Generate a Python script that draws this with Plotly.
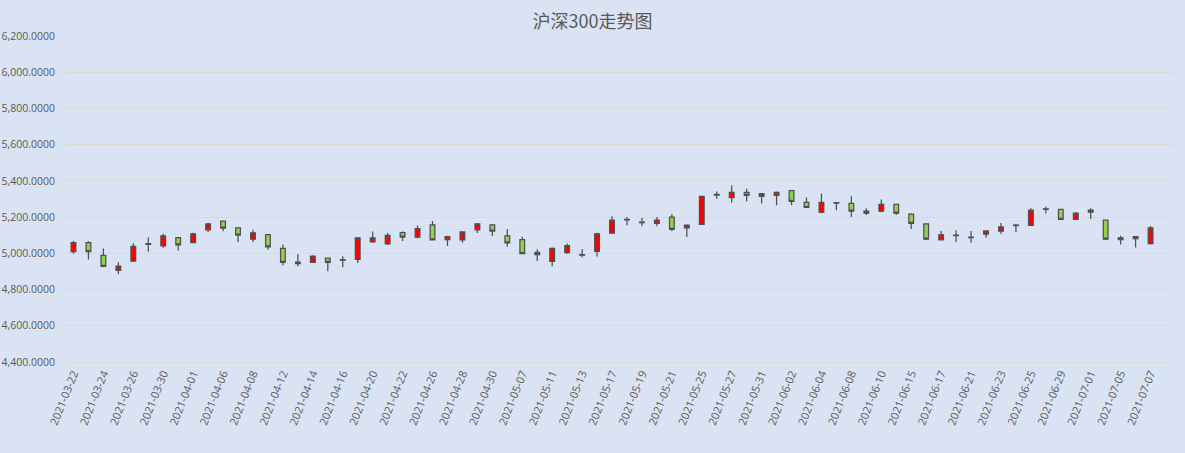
import plotly.graph_objects as go

# 沪深300 daily candles, 2021-03-22 .. 2021-07-07
dates = [
    "2021-03-22", "2021-03-23", "2021-03-24", "2021-03-25", "2021-03-26",
    "2021-03-29", "2021-03-30", "2021-03-31", "2021-04-01", "2021-04-02",
    "2021-04-06", "2021-04-07", "2021-04-08", "2021-04-09", "2021-04-12",
    "2021-04-13", "2021-04-14", "2021-04-15", "2021-04-16", "2021-04-19",
    "2021-04-20", "2021-04-21", "2021-04-22", "2021-04-23", "2021-04-26",
    "2021-04-27", "2021-04-28", "2021-04-29", "2021-04-30", "2021-05-06",
    "2021-05-07", "2021-05-10", "2021-05-11", "2021-05-12", "2021-05-13",
    "2021-05-14", "2021-05-17", "2021-05-18", "2021-05-19", "2021-05-20",
    "2021-05-21", "2021-05-24", "2021-05-25", "2021-05-26", "2021-05-27",
    "2021-05-28", "2021-05-31", "2021-06-01", "2021-06-02", "2021-06-03",
    "2021-06-04", "2021-06-07", "2021-06-08", "2021-06-09", "2021-06-10",
    "2021-06-11", "2021-06-15", "2021-06-16", "2021-06-17", "2021-06-18",
    "2021-06-21", "2021-06-22", "2021-06-23", "2021-06-24", "2021-06-25",
    "2021-06-28", "2021-06-29", "2021-06-30", "2021-07-01", "2021-07-02",
    "2021-07-05", "2021-07-06", "2021-07-07",
]
open_ = [
    5009, 5059, 4989, 4906, 4957, 5050, 5041, 5087, 5059, 5130,
    5178, 5141, 5079, 5103, 5027, 4951, 4950, 4973, 4962, 4966,
    5063, 5052, 5115, 5090, 5157, 5076, 5074, 5130, 5157, 5097,
    5076, 5005, 4955, 5004, 4990, 5011, 5111, 5185, 5172, 5166,
    5200, 5140, 5160, 5322, 5307, 5336, 5314, 5320, 5346, 5281,
    5227, 5280, 5276, 5222, 5233, 5270, 5216, 5162, 5075, 5098,
    5090, 5106, 5122, 5153, 5155, 5243, 5243, 5187, 5238, 5184,
    5076, 5092, 5054,
]
high = [
    5070, 5067, 5027, 4951, 5056, 5087, 5108, 5088, 5114, 5168,
    5179, 5142, 5130, 5104, 5049, 4995, 4989, 4974, 4984, 5087,
    5121, 5112, 5121, 5153, 5178, 5097, 5119, 5168, 5162, 5135,
    5092, 5022, 5032, 5054, 5022, 5113, 5205, 5200, 5195, 5200,
    5216, 5157, 5319, 5341, 5374, 5357, 5331, 5341, 5347, 5308,
    5330, 5281, 5315, 5249, 5297, 5271, 5222, 5163, 5124, 5128,
    5124, 5124, 5168, 5164, 5249, 5259, 5244, 5227, 5249, 5185,
    5097, 5093, 5151,
]
low = [
    4998, 4966, 4923, 4885, 4955, 5009, 5031, 5014, 5058, 5117,
    5122, 5063, 5063, 5020, 4933, 4928, 4946, 4901, 4923, 4946,
    5058, 5047, 5068, 5083, 5074, 5041, 5058, 5112, 5096, 5036,
    4997, 4957, 4928, 4998, 4977, 4982, 5110, 5155, 5149, 5149,
    5122, 5090, 5159, 5301, 5281, 5286, 5275, 5266, 5265, 5254,
    5221, 5238, 5200, 5211, 5227, 5211, 5135, 5074, 5074, 5062,
    5059, 5086, 5108, 5117, 5154, 5220, 5182, 5182, 5189, 5074,
    5049, 5032, 5049,
]
close = [
    5059, 5009, 4928, 4930, 5038, 5053, 5097, 5047, 5108, 5162,
    5139, 5101, 5113, 5036, 4950, 4943, 4984, 4950, 4965, 5086,
    5086, 5099, 5090, 5137, 5075, 5092, 5118, 5162, 5122, 5058,
    4998, 4993, 5027, 5043, 4993, 5108, 5184, 5188, 5170, 5184,
    5133, 5156, 5314, 5325, 5336, 5320, 5330, 5336, 5287, 5254,
    5281, 5277, 5233, 5233, 5270, 5222, 5166, 5079, 5102, 5101,
    5087, 5124, 5146, 5156, 5238, 5246, 5187, 5222, 5227, 5079,
    5086, 5081, 5140,
]

# label every other trading day, tick at every category boundary
tick_text = [d if i % 2 == 0 else "" for i, d in enumerate(dates)]

bg = "#dae3f3"
grid = "#dcd9d3"
txt = "#595959"

fig = go.Figure()
fig.add_trace(go.Candlestick(
    x=dates, open=open_, high=high, low=low, close=close,
    increasing=dict(line=dict(color="#505050", width=1.25), fillcolor="#ff0000"),
    decreasing=dict(line=dict(color="#505050", width=1.25), fillcolor="#92d050"),
    showlegend=False,
))

fig.update_layout(
    width=1185, height=453,
    paper_bgcolor=bg, plot_bgcolor=bg,
    margin=dict(l=66, r=12, t=36, b=91),
    boxgap=0.55,
    title=dict(text="沪深300走势图", x=0.5, xanchor="center", y=1 - 22 / 453, yanchor="middle",
               font=dict(family="Noto Sans CJK SC", size=18, color=txt)),
    font=dict(family="Open Sans", size=11, color=txt),
    xaxis=dict(
        type="category",
        rangeslider=dict(visible=False),
        range=[-0.5, len(dates) + 0.5],
        tickmode="array", tickvals=dates, ticktext=tick_text,
        tickson="boundaries", ticks="outside", ticklen=4, tickcolor=grid,
        tickangle=-68, showgrid=False, automargin=False,
        showline=True, linecolor=grid, linewidth=1,
        tickfont=dict(size=11, color=txt),
    ),
    yaxis=dict(
        range=[4400, 6200], dtick=200, tickformat=",.4f",
        showgrid=True, gridcolor=grid, gridwidth=1, zeroline=False,
        ticklabelstandoff=10, automargin=False,
        tickfont=dict(size=10.5, color=txt),
    ),
)

# drop the browser's default page margin so the figure sits at the top-left corner
fig.write_html(
    "out.html",
    config={"displayModeBar": False},
    post_script="document.body.style.margin='0';document.body.style.background='%s';" % bg,
)
